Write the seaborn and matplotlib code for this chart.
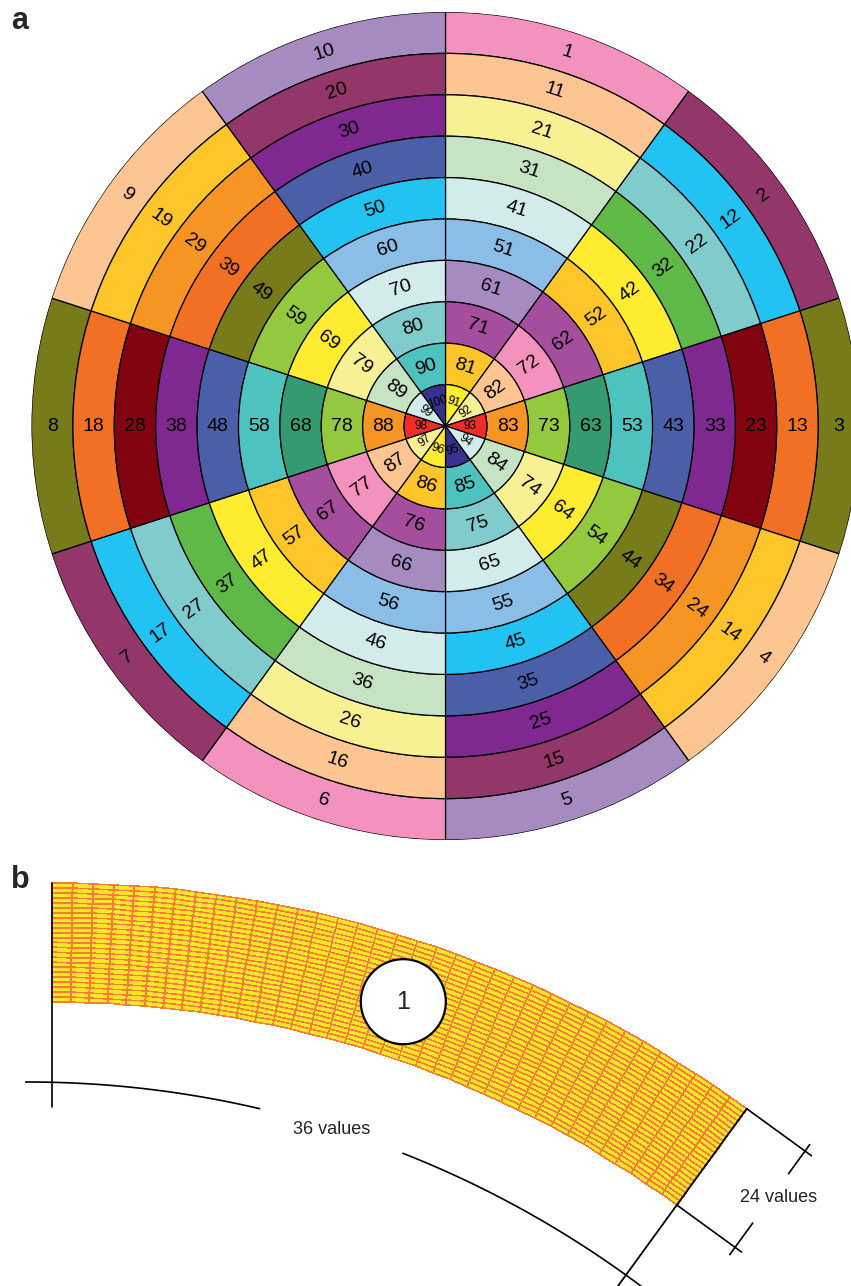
"""
Ring/segment numbering scheme (a) and one 36 x 24 sector grid (b).
"""
import numpy as np
import matplotlib
matplotlib.use("Agg")
import matplotlib.pyplot as plt
import seaborn as sns

from matplotlib.colors import ListedColormap
from matplotlib.patches import Circle

# ================================================================================
# Data
# ================================================================================
N_SEGMENTS = 10          # segments per ring
N_RINGS    = 10          # rings, outermost first
N_ARC      = 36          # grid values along the arc (panel b)
N_RADIAL   = 24          # grid values across the band (panel b)

PAL = {
    "pink": "#F492BF", "peach": "#FDC591", "lightyellow": "#F8F194",
    "palegreen": "#C6E4C4", "paleblue": "#D2EBEB", "skyblue": "#8BBEE7",
    "lavender": "#A68BC1", "orchid": "#A44E9D", "plum": "#93376A",
    "cyan": "#22C3F3", "teal": "#80CCCC", "green": "#5FB947",
    "yellow": "#FEEC30", "gold": "#FEC62A", "orange": "#F69523",
    "darkorange": "#F27024", "olive": "#787B1A", "lime": "#93C83F",
    "darkred": "#820411", "violet": "#7F288F", "steel": "#4B5FA9",
    "turquoise": "#4DC2BF", "seagreen": "#359A6F", "navy": "#363290",
    "red": "#EE2D27",
}

# colours of segments 1..5 in each ring (segments 6..10 repeat them)
ring_colors = [
    ["pink",        "plum",        "olive",     "peach",       "lavender"],
    ["peach",       "cyan",        "darkorange", "gold",       "plum"],
    ["lightyellow", "teal",        "darkred",   "orange",      "violet"],
    ["palegreen",   "green",       "violet",    "darkorange",  "steel"],
    ["paleblue",    "yellow",      "steel",     "olive",       "cyan"],
    ["skyblue",     "gold",        "turquoise", "lime",        "skyblue"],
    ["lavender",    "orchid",      "seagreen",  "yellow",      "paleblue"],
    ["orchid",      "pink",        "lime",      "lightyellow", "teal"],
    ["gold",        "peach",       "orange",    "palegreen",   "turquoise"],
    ["yellow",      "lightyellow", "red",       "paleblue",    "navy"],
]

ARC_LABEL    = "36 values"
RADIAL_LABEL = "24 values"
SECTOR_LABEL = "1"

# --------------------------------------------------------------------------------
# Styling
# --------------------------------------------------------------------------------
sns.set_style("white")
plt.rcParams["font.family"] = ["Liberation Sans", "DejaVu Sans"]

EDGE      = {"edgecolor": "black", "linewidth": 0.9}
NUM_SIZE  = 14
CORE_SIZE = 8.5
GRID_FILL = "#FFE22E"
GRID_LINE = "#F28030"
INK       = "#222222"

fig = plt.figure(figsize=(8.51, 12.86), dpi=100)
W, H = 851, 1286

# ================================================================================
# Panel a: polar bars
# ================================================================================
cx_a, cy_a, rad_a = 445.5, 426, 414
ax = fig.add_axes([(cx_a - rad_a) / W, (H - cy_a - rad_a) / H,
                   2 * rad_a / W, 2 * rad_a / H], projection="polar")
ax.set_theta_zero_location("N")
ax.set_theta_direction(-1)

seg_width = 2 * np.pi / N_SEGMENTS
theta     = seg_width * (np.arange(N_SEGMENTS) + 0.5)

for k in range(N_RINGS):
    colors = [PAL[c] for c in ring_colors[k]] * 2
    bottom = N_RINGS - 1 - k
    ax.bar(theta, np.ones(N_SEGMENTS), width=seg_width, bottom=bottom,
           color=colors, align="center", **EDGE)

    for j in range(N_SEGMENTS):
        deg = 90 - np.degrees(theta[j])          # math angle of segment centre
        rot = ((deg + 90) % 180) - 90            # radial reading
        if abs(rot) > 45:                        # near vertical -> tangential
            rot -= 90 * np.sign(rot)
        core = k == N_RINGS - 1
        ax.text(theta[j], bottom + (0.6 if core else 0.5), str(k * N_SEGMENTS + j + 1),
                rotation=rot, rotation_mode="anchor", ha="center", va="center",
                fontsize=CORE_SIZE if core else NUM_SIZE, color="black")

ax.set_ylim(0, N_RINGS)
ax.set_axis_off()

# ================================================================================
# Panel b: one sector of the grid, in pixel-like coordinates
# ================================================================================
bx = fig.add_axes([0, 0, 1, 426 / H])
bx.set_xlim(0, W)
bx.set_ylim(H, 860)
bx.set_axis_off()

cx, cy        = 52, 2065          # centre of the band
r_in, r_out   = 1063, 1182
phi0, phi1    = 54, 90            # band angles (deg)

phi_e = np.radians(np.linspace(phi1, phi0, N_ARC + 1))
r_e   = np.linspace(r_in, r_out, N_RADIAL + 1)
PHI, R = np.meshgrid(phi_e, r_e)
bx.pcolormesh(cx + R * np.cos(PHI), cy - R * np.sin(PHI),
              np.zeros((N_RADIAL, N_ARC)), cmap=ListedColormap([GRID_FILL]),
              edgecolors=GRID_LINE, linewidth=0.35, shading="flat")

def polar_pt(r, phi_deg, ox=cx, oy=cy):
    p = np.radians(phi_deg)
    return ox + r * np.cos(p), oy - r * np.sin(p)

# left edge (vertical) and right edge of band, extended inwards
x0, y0 = polar_pt(np.array([958, r_out]), phi1)
bx.plot(x0, y0, color="black", lw=1.2)
x1, y1 = polar_pt(np.array([950, r_out]), phi0)
bx.plot(x1, y1, color="black", lw=1.3)

# arc below the band, broken for the label
ax_c, ay_c, r_arc = 27.5, 2106, 1024
for a0, a1 in [(90.1, 76.9), (68.5, 50)]:
    ph = np.linspace(a0, a1, 80)
    xa, ya = polar_pt(r_arc, ph, ax_c, ay_c)
    bx.plot(xa, ya, color="black", lw=1.2)
bx.text(332, 1130, ARC_LABEL, ha="center", va="center", fontsize=13, color=INK)

# extension and dimension lines for the radial count
tang = np.array([np.sin(np.radians(phi0)), np.cos(np.radians(phi0))])
rad  = np.array([np.cos(np.radians(phi0)), -np.sin(np.radians(phi0))])
outer = np.array(polar_pt(r_out, phi0))
inner = np.array(polar_pt(r_in, phi0))
for p in (outer, inner):
    q = p + 80 * tang
    bx.plot([p[0], q[0]], [p[1], q[1]], color="black", lw=1.2)
up = outer + 72 * tang
lo = inner + 72 * tang
for p, a, b in [(up, 8, -28), (lo, -9, 30)]:
    s, e = p + a * rad, p + b * rad
    bx.plot([s[0], e[0]], [s[1], e[1]], color="black", lw=1.2)
bx.text(779, 1198, RADIAL_LABEL, ha="center", va="center", fontsize=13, color=INK)

# numbered marker on the band
bx.add_patch(Circle((403.3, 1001.7), 42.5, facecolor="white", edgecolor="black",
                    lw=1.6, zorder=5))
bx.text(403.3, 1002, SECTOR_LABEL, ha="center", va="center", fontsize=18,
        color=INK, zorder=6)

# panel letters
fig.text(20 / W, 1 - 21 / H, "a", ha="center", va="center", fontsize=22, fontweight="bold")
fig.text(20 / W, 1 - 880 / H, "b", ha="center", va="center", fontsize=22, fontweight="bold")

fig.savefig("out.png", dpi=100)
